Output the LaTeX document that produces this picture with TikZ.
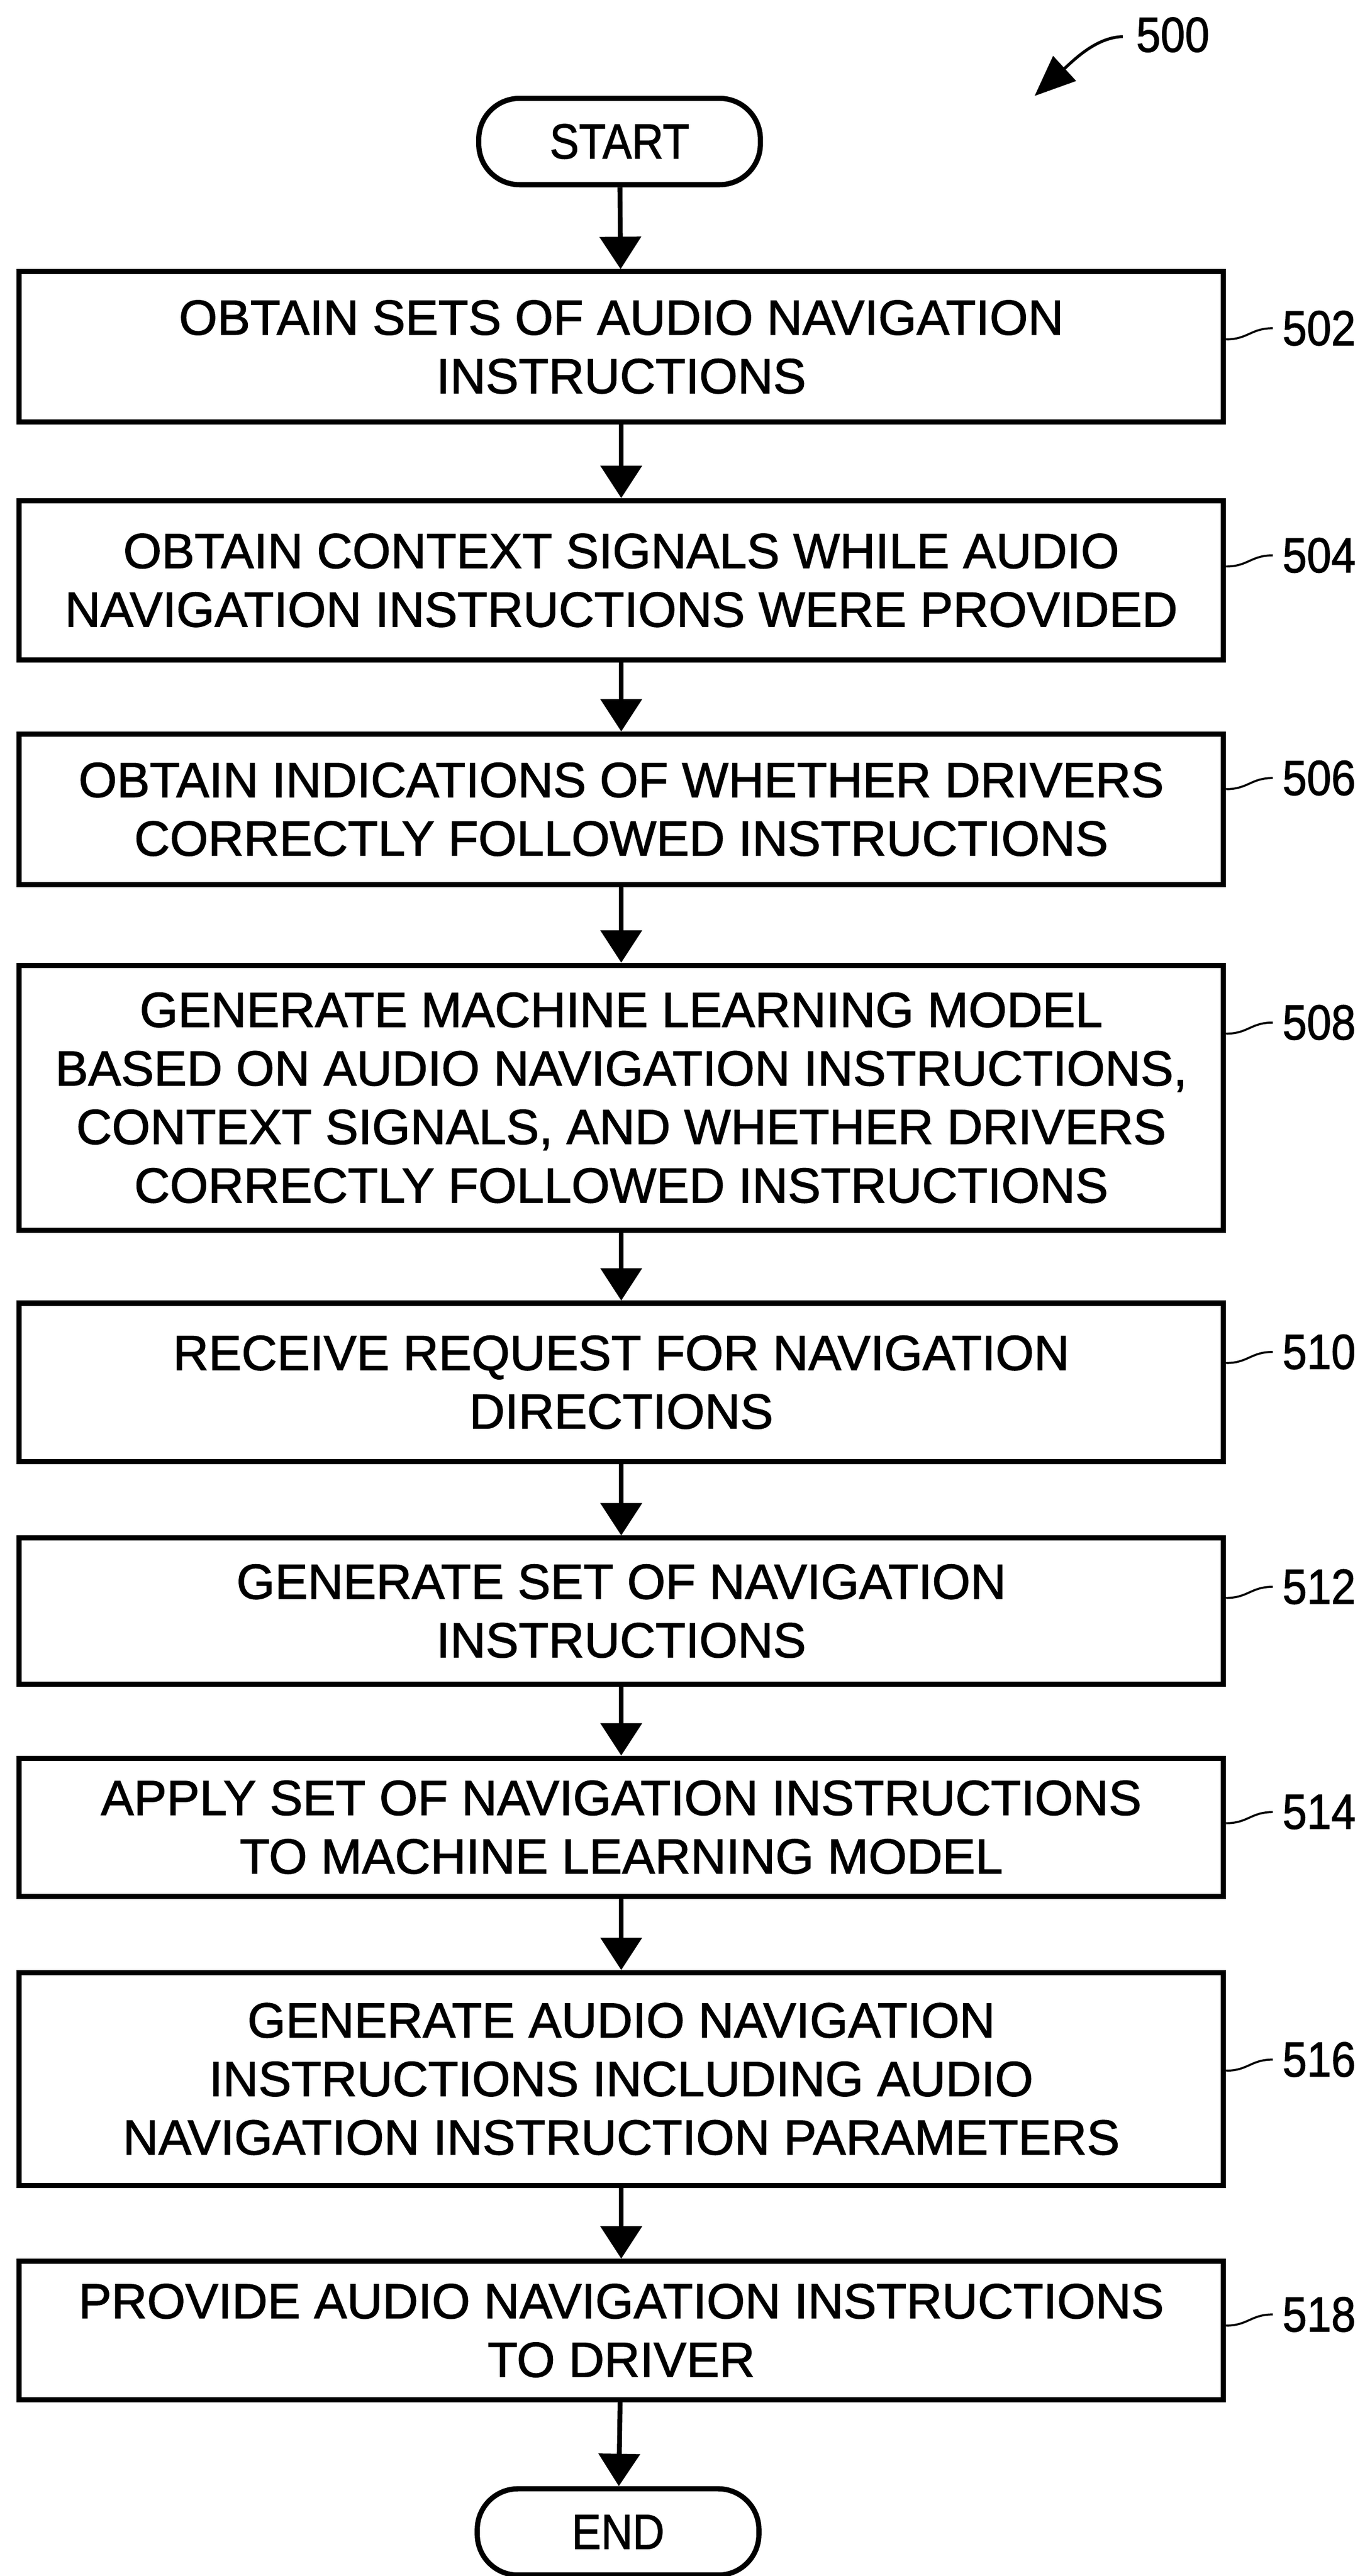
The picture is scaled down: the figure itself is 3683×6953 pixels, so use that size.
\documentclass[tikz,border=0pt]{standalone}
\usepackage{fontspec}
\setmainfont{Liberation Sans}
\newfontfamily\heavysans{Liberation Sans}[FakeBold=1.5]
\usetikzlibrary{arrows.meta}
\begin{document}
\begin{tikzpicture}[x=0.2pt,y=-0.2pt,
  txt/.style={font=\heavysans\fontsize{26.6}{31.6}\selectfont},
  box/.style={txt, draw, line width=2.8pt, minimum width=650pt, align=center, inner sep=0pt},
  term/.style={txt, draw, line width=2.8pt, rounded corners=22pt, minimum width=152pt, minimum height=46.6pt, inner sep=0pt},
  flow/.style={line width=2.6pt, -{Triangle[width=22pt,length=17.5pt]}},
  reflabel/.style={txt, anchor=west, inner sep=0pt},
  leader/.style={line width=1.1pt},
  figarrow/.style={line width=1.6pt, -{Triangle[width=18pt,length=22pt]}}]
\useasboundingbox (0,0) rectangle (3683,6953);

% figure number
\node[txt, inner sep=0pt] (l500) at (3165,94) {\scalebox{0.89}[1]{500}};
\coordinate (a500t) at (2792,259);
\draw[figarrow] ([xshift=-7pt,yshift=-1pt]l500.west) .. controls (2960,100) and (2900,160) .. (a500t);

% terminals
\node[term] (start) at (1672,382) {\scalebox{0.89}[1]{START}};
\node[term] (end) at (1668,6834) {\scalebox{0.89}[1]{END}};

% process boxes
\node[box, minimum height=81.2pt] (b502) at (1676.5,936.5) {OBTAIN SETS OF AUDIO NAVIGATION\\INSTRUCTIONS};
\node[box, minimum height=86pt] (b504) at (1676.5,1566.5) {OBTAIN CONTEXT SIGNALS WHILE AUDIO\\NAVIGATION INSTRUCTIONS WERE PROVIDED};
\node[box, minimum height=81.2pt] (b506) at (1676.5,2184.5) {OBTAIN INDICATIONS OF WHETHER DRIVERS\\CORRECTLY FOLLOWED INSTRUCTIONS};
\node[box, minimum height=143pt] (b508) at (1676.5,2963) {GENERATE MACHINE LEARNING MODEL\\BASED ON AUDIO NAVIGATION INSTRUCTIONS,\\CONTEXT SIGNALS, AND WHETHER DRIVERS\\CORRECTLY FOLLOWED INSTRUCTIONS};
\node[box, minimum height=85.4pt] (b510) at (1676.5,3731) {RECEIVE REQUEST FOR NAVIGATION\\DIRECTIONS};
\node[box, minimum height=78.8pt] (b512) at (1676.5,4348.5) {GENERATE SET OF NAVIGATION\\INSTRUCTIONS};
\node[box, minimum height=74.6pt] (b514) at (1676.5,4932) {APPLY SET OF NAVIGATION INSTRUCTIONS\\TO MACHINE LEARNING MODEL};
\node[box, minimum height=114.8pt] (b516) at (1676.5,5611.5) {GENERATE AUDIO NAVIGATION\\INSTRUCTIONS INCLUDING AUDIO\\NAVIGATION INSTRUCTION PARAMETERS};
\node[box, minimum height=74.8pt] (b518) at (1676.5,6290.5) {PROVIDE AUDIO NAVIGATION INSTRUCTIONS\\TO DRIVER};

% flow arrows
\draw[flow] (start) -- (b502);
\draw[flow] (b502) -- (b504);
\draw[flow] (b504) -- (b506);
\draw[flow] (b506) -- (b508);
\draw[flow] (b508) -- (b510);
\draw[flow] (b510) -- (b512);
\draw[flow] (b512) -- (b514);
\draw[flow] (b514) -- (b516);
\draw[flow] (b516) -- (b518);
\draw[flow] (b518) -- (end);

% reference labels
\node[reflabel] (l502) at (3460,886) {\scalebox{0.89}[1]{502}};
\node[reflabel] (l504) at (3460,1499) {\scalebox{0.89}[1]{504}};
\node[reflabel] (l506) at (3460,2100) {\scalebox{0.89}[1]{506}};
\node[reflabel] (l508) at (3460,2760) {\scalebox{0.89}[1]{508}};
\node[reflabel] (l510) at (3460,3649) {\scalebox{0.89}[1]{510}};
\node[reflabel] (l512) at (3460,4283) {\scalebox{0.89}[1]{512}};
\node[reflabel] (l514) at (3460,4891) {\scalebox{0.89}[1]{514}};
\node[reflabel] (l516) at (3460,5559) {\scalebox{0.89}[1]{516}};
\node[reflabel] (l518) at (3460,6247) {\scalebox{0.89}[1]{518}};

\draw[leader] ([yshift=4.1pt]b502.east) .. controls +(12pt,0) and +(-12pt,0) .. ([xshift=-5pt]l502.west);
\draw[leader] ([yshift=7.5pt]b504.east) .. controls +(12pt,0) and +(-12pt,0) .. ([xshift=-5pt]l504.west);
\draw[leader] ([yshift=10.9pt]b506.east) .. controls +(12pt,0) and +(-12pt,0) .. ([xshift=-5pt]l506.west);
\draw[leader] ([yshift=34.6pt]b508.east) .. controls +(12pt,0) and +(-12pt,0) .. ([xshift=-5pt]l508.west);
\draw[leader] ([yshift=10.4pt]b510.east) .. controls +(12pt,0) and +(-12pt,0) .. ([xshift=-5pt]l510.west);
\draw[leader] ([yshift=7.1pt]b512.east) .. controls +(12pt,0) and +(-12pt,0) .. ([xshift=-5pt]l512.west);
\draw[leader] ([yshift=2.2pt]b514.east) .. controls +(12pt,0) and +(-12pt,0) .. ([xshift=-5pt]l514.west);
\draw[leader] ([yshift=4.5pt]b516.east) .. controls +(12pt,0) and +(-12pt,0) .. ([xshift=-5pt]l516.west);
\draw[leader] ([yshift=2.7pt]b518.east) .. controls +(12pt,0) and +(-12pt,0) .. ([xshift=-5pt]l518.west);
\end{tikzpicture}
\end{document}
